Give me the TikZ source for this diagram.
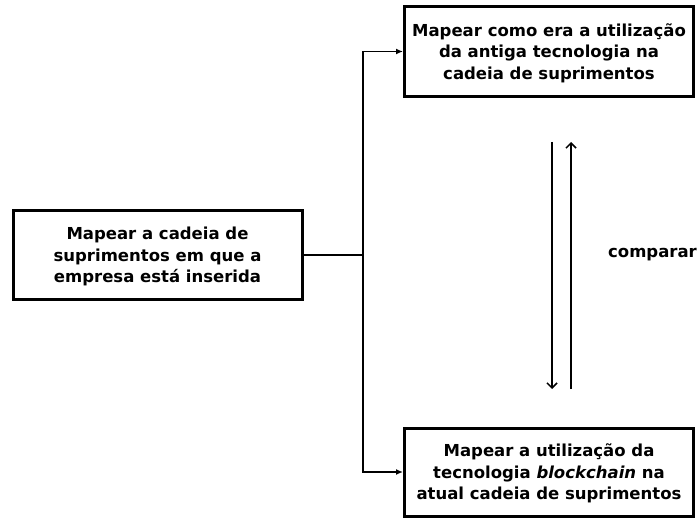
\documentclass[tikz,border=0pt]{standalone}
\usepackage{fontspec}
\setmainfont{DejaVu Sans}
\usetikzlibrary{arrows,arrows.meta,positioning}

\begin{document}
\begin{tikzpicture}[x=1pt, y=-1pt,
		caixa/.style={rectangle, draw, line width=3pt, minimum width=289pt, align=center, font=\fontsize{16.5}{21.5}\selectfont\bfseries, inner sep=0pt, text depth=0pt},
		seta/.style={line width=1.6pt, -{Latex[length=7pt,width=6pt]}}]
				\useasboundingbox (0,0) rectangle (698,518);
				\node[caixa, minimum height=89pt] (base) at (157.5,255) {Mapear a cadeia de\\suprimentos em que a\\empresa está inserida};
				\node[caixa, minimum height=90pt] (antiga) at (549,51.5) {Mapear como era a utilização\\da antiga tecnologia na\\cadeia de suprimentos};
				\node[caixa, minimum height=88pt] (atual) at (549,472) {Mapear a utilização da\\tecnologia \textit{blockchain} na\\atual cadeia de suprimentos};
				\coordinate (junta) at (363,255);
				
				\draw[line width=1.6pt] (base) -- (junta);
				\draw[seta] (junta) |- (antiga.west);
				\draw[seta] (junta) |- (atual.west);
				
				\coordinate (descA) at (552,142);
				\coordinate (descB) at (552,389);
				\coordinate (sobeA) at (571,389);
				\coordinate (sobeB) at (571,142);
				\draw[line width=1.5pt, -{Straight Barb[length=5pt,width=10pt]}] (descA) -- (descB);
				\draw[line width=1.5pt, -{Straight Barb[length=5pt,width=10pt]}] (sobeA) -- (sobeB);
				\node[font=\fontsize{16.5}{20}\selectfont\bfseries, anchor=east, inner sep=0pt] (comp) at (697,255) {comparar};
			\end{tikzpicture}
\end{document}
